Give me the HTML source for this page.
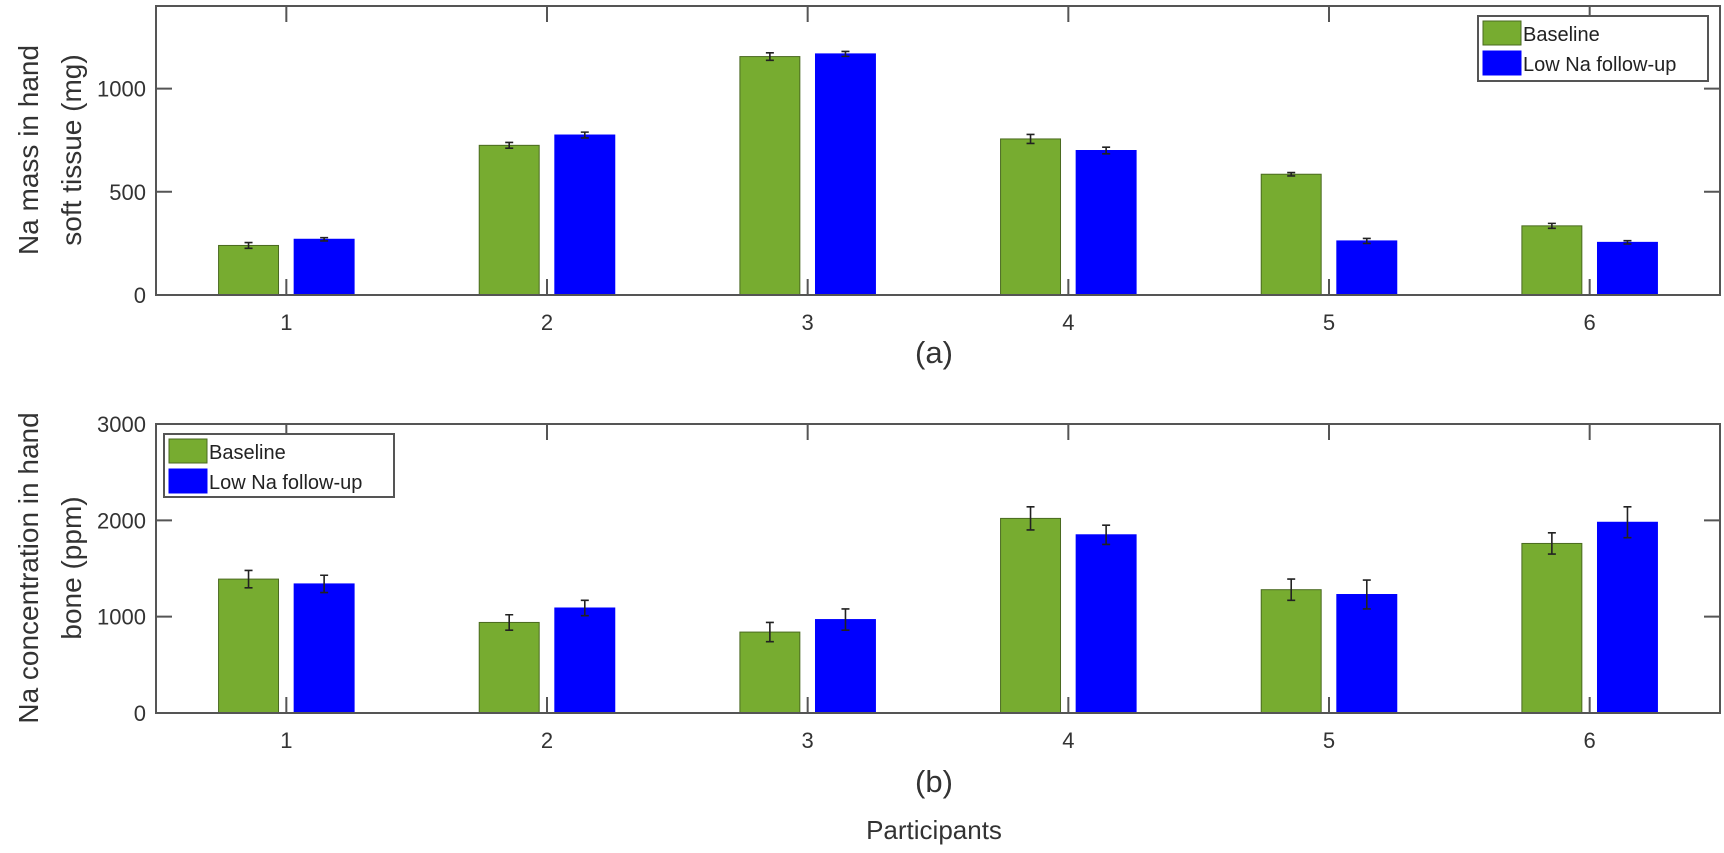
<!DOCTYPE html>
<html><head><meta charset="utf-8"><style>
html,body{margin:0;padding:0;background:#fff;}
svg{display:block;font-family:"Liberation Sans",sans-serif;}
</style></head><body>
<svg id="chart" width="1724" height="853" viewBox="0 0 1724 853" xmlns="http://www.w3.org/2000/svg"></svg>
<script>
const categories = ["1","2","3","4","5","6"];
const softBaseline = [240, 725, 1155, 756, 585, 335];
const softBaselineErr = [14, 14, 18, 22, 8, 12];
const softFollow = [270, 775, 1168, 700, 262, 255];
const softFollowErr = [8, 14, 12, 16, 12, 8];
const softTicks = [0, 500, 1000];
const boneBaseline = [1390, 940, 840, 2020, 1280, 1760];
const boneBaselineErr = [90, 80, 100, 120, 110, 110];
const boneFollow = [1340, 1090, 970, 1850, 1230, 1980];
const boneFollowErr = [90, 80, 110, 100, 150, 160];
const boneTicks = [0, 1000, 2000, 3000];

const NS = "http://www.w3.org/2000/svg";
const svg = document.getElementById("chart");
function el(tag, attrs, parent){
  const e = document.createElementNS(NS, tag);
  for (const k in attrs) e.setAttribute(k, attrs[k]);
  (parent||svg).appendChild(e);
  return e;
}
const GREEN = "#77ac30", BLUE = "#0000ff", AX = "#555";
const L = 156, R = 1720;
function xScale(i){ return L + (i + 1 - 0.5) / 6 * (R - L); }
const bw = 0.23 * (R - L) / 6, off = 0.145 * (R - L) / 6;

function panel(name, top, bottom, ymax, ticks, base, baseErr, fol, folErr, yl1, yl2, ylY, legend, letter, letterY){
  const g = el("g", {});
  
  
  const y = v => bottom - v / ymax * (bottom - top);
  for (let i = 0; i < categories.length; i++){
    const cx = xScale(i);
    [[base, baseErr, GREEN, -off, "baseline"], [fol, folErr, BLUE, off, "follow-up"]].forEach(([vals, errs, col, dx, nm]) => {
      const r = el("rect", {x: cx + dx - bw/2, y: y(vals[i]), width: bw, height: bottom - y(vals[i]), fill: col, stroke: col === GREEN ? "#4a6a20" : BLUE, "stroke-width": 1}, g);
      
      
      const ex = cx + dx, y1 = y(vals[i] + errs[i]), y2 = y(vals[i] - errs[i]);
      const eb = el("path", {d: `M${ex},${y1}V${y2}M${ex-4},${y1}H${ex+4}M${ex-4},${y2}H${ex+4}`, stroke: "#222", "stroke-width": 1.6, fill: "none"}, g);
      
      
    });
  }
  const box = el("rect", {x: L, y: top, width: R - L, height: bottom - top, fill: "none", stroke: AX, "stroke-width": 2}, g);
  
  
  for (let i = 0; i < categories.length; i++){
    const cx = xScale(i);
    el("path", {d: `M${cx},${bottom}V${bottom-16}M${cx},${top}V${top+16}`, stroke: AX, "stroke-width": 2}, g);
    const t = el("text", {x: cx, y: bottom + 35, "text-anchor": "middle", "font-size": 22, fill: "#333"}, g);
    t.textContent = categories[i];
    
    
  }
  ticks.forEach(v => {
    const yy = y(v);
    el("path", {d: `M${L},${yy}H${L+16}M${R},${yy}H${R-16}`, stroke: AX, "stroke-width": 2}, g);
    const t = el("text", {x: L - 10, y: yy + 8, "text-anchor": "end", "font-size": 22, fill: "#333"}, g);
    t.textContent = v;
    
    
  });
  [[yl1, 38], [yl2, 81]].forEach(([txt, xx]) => {
    const t = el("text", {x: xx, y: ylY, transform: `rotate(-90 ${xx} ${ylY})`, "text-anchor": "middle", "font-size": 28, fill: "#333"}, g);
    t.textContent = txt;
    
    
  });
  const lt = el("text", {x: 934, y: letterY, "text-anchor": "middle", "font-size": 31, fill: "#333"}, g);
  lt.textContent = letter;
  
  
  const [lx, ly, lw, lh] = legend;
  const lg = el("g", {}, g);
  
  
  el("rect", {x: lx, y: ly, width: lw, height: lh, fill: "#fff", stroke: AX, "stroke-width": 2}, lg);
  [["Baseline", GREEN, "#4a6a20"], ["Low Na follow-up", BLUE, BLUE]].forEach(([txt, col, st], k) => {
    const ey = ly + 5 + k * 30;
    const sw = el("rect", {x: lx + 5, y: ey, width: 38, height: 24, fill: col, stroke: st, "stroke-width": 1}, lg);
    
    
    const t = el("text", {x: lx + 45, y: ey + 20, "font-size": 20, fill: "#222"}, lg);
    t.textContent = txt;
    
    
  });
}

panel("panel-a-soft-tissue", 6, 295, 1400, softTicks, softBaseline, softBaselineErr, softFollow, softFollowErr,
  "Na mass in hand", "soft tissue (mg)", 150, [1478, 16, 230, 65], "(a)", 363);
panel("panel-b-bone", 424, 713, 3000, boneTicks, boneBaseline, boneBaselineErr, boneFollow, boneFollowErr,
  "Na concentration in hand", "bone (ppm)", 568, [164, 434, 230, 63], "(b)", 792);

const xt = el("text", {x: 934, y: 839, "text-anchor": "middle", "font-size": 26, fill: "#333"});
xt.textContent = "Participants";


</script>
</body></html>
